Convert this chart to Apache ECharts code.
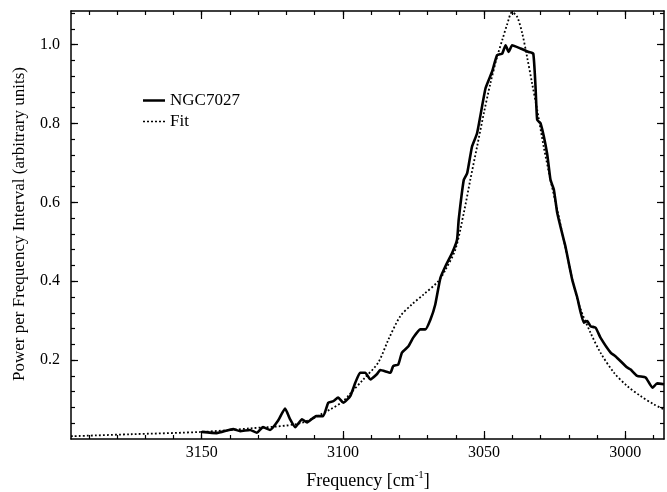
<!DOCTYPE html>
<html>
<head>
<meta charset="utf-8">
<script src="https://cdn.jsdelivr.net/npm/echarts@6/dist/echarts.min.js"></script>
<style>
html,body{margin:0;padding:0;background:#fff;}
#chart{width:667px;height:492px;}
</style>
</head>
<body>
<div id="chart"></div>
<script>
// Observed spectrum (NGC7027)
const freqObs = [3150.0,3144.7,3138.9,3136.4,3132.9,3130.5,3128.3,3125.8,3123.0,3120.5,3118.7,3116.9,3114.5,3112.7,3109.5,3107.0,3105.2,3103.4,3101.7,3099.9,3097.4,3095.6,3093.9,3092.1,3090.3,3088.0,3086.8,3083.2,3082.2,3080.4,3079.1,3076.8,3075.1,3072.6,3070.8,3069.0,3067.3,3065.5,3063.7,3061.3,3059.6,3059.0,3057.2,3056.0,3054.3,3052.5,3049.5,3047.2,3045.4,3043.6,3042.4,3041.3,3040.1,3037.1,3034.2,3032.6,3031.8,3031.2,3030.0,3027.7,3026.5,3025.3,3024.1,3021.8,3021.2,3018.8,3017.0,3014.7,3013.5,3012.3,3010.5,3008.8,3005.2,3003.5,2999.3,2998.1,2995.8,2992.8,2990.4,2988.7,2986.3];
const powerObs = [0.018,0.015,0.025,0.020,0.023,0.016,0.030,0.023,0.046,0.077,0.050,0.030,0.050,0.042,0.058,0.058,0.092,0.096,0.105,0.092,0.109,0.143,0.168,0.168,0.151,0.164,0.175,0.168,0.185,0.189,0.219,0.235,0.257,0.278,0.278,0.303,0.341,0.408,0.438,0.472,0.505,0.556,0.657,0.674,0.741,0.775,0.889,0.931,0.973,0.977,0.998,0.981,0.998,0.990,0.981,0.977,0.893,0.809,0.800,0.724,0.657,0.632,0.573,0.505,0.488,0.404,0.358,0.295,0.299,0.286,0.282,0.257,0.219,0.210,0.181,0.176,0.160,0.156,0.130,0.141,0.139];
// Fit
const freqFit = [3196.3,3175.4,3150.0,3132.9,3115.1,3104.5,3099.9,3098.2,3092.8,3087.5,3083.9,3079.7,3075.6,3071.5,3066.2,3063.7,3060.2,3057.2,3054.9,3052.5,3050.1,3047.8,3045.4,3043.6,3041.8,3040.1,3038.3,3036.5,3034.8,3033.0,3031.2,3028.9,3026.5,3024.1,3021.8,3018.2,3015.8,3012.3,3008.8,3004.0,2999.3,2994.6,2989.9,2986.3];
const powerFit = [0.007,0.012,0.018,0.027,0.040,0.075,0.096,0.109,0.151,0.194,0.252,0.311,0.341,0.366,0.400,0.429,0.480,0.573,0.657,0.741,0.826,0.901,0.969,1.011,1.052,1.082,1.070,1.028,0.969,0.901,0.834,0.741,0.657,0.581,0.505,0.387,0.328,0.269,0.219,0.168,0.134,0.109,0.088,0.075];
// Ticks
const xMajorTicks = [3000,3050,3100,3150];
const xMinorTicks = [2990,3000,3010,3020,3030,3040,3050,3060,3070,3080,3090,3100,3110,3120,3130,3140,3150,3160,3170,3180,3190];
const yMajorTicks = [0.2,0.4,0.6,0.8,1.0];
const yMinorTicks = [0.04,0.08,0.12,0.16,0.2,0.24,0.28,0.32,0.36,0.4,0.44,0.48,0.52,0.56,0.6,0.64,0.68,0.72,0.76,0.8,0.84,0.88,0.92,0.96,1.0,1.04,1.08];

const FONT = '"Liberation Serif", "Times New Roman", serif';
const X_MIN = 2986.3, X_MAX = 3196.3, Y_MIN = 0, Y_MAX = 1.085;

function xAx(pos, major, showLine) {
  return {
    type: 'value', position: pos, min: X_MIN, max: X_MAX, inverse: true,
    splitLine: {show: false},
    axisLine: {show: showLine, onZero: false, lineStyle: {color: '#000', width: 1.5}},
    axisTick: {show: true, inside: true, length: major ? 8 : 4,
      customValues: major ? xMajorTicks : xMinorTicks,
      lineStyle: {color: '#000', width: 1.2}},
    axisLabel: {show: pos === 'bottom' && major, customValues: xMajorTicks,
      color: '#000', fontFamily: FONT, fontSize: 16, margin: 6,
      formatter: v => String(Math.round(v))}
  };
}
function yAx(pos, major, showLine) {
  return {
    type: 'value', position: pos, min: Y_MIN, max: Y_MAX,
    splitLine: {show: false},
    axisLine: {show: showLine, onZero: false, lineStyle: {color: '#000', width: 1.5}},
    axisTick: {show: true, inside: true, length: major ? 7 : 4,
      customValues: major ? yMajorTicks : yMinorTicks,
      lineStyle: {color: '#000', width: 1.2}},
    axisLabel: {show: pos === 'left' && major, customValues: yMajorTicks,
      color: '#000', fontFamily: FONT, fontSize: 16, margin: 11,
      formatter: v => v.toFixed(1)}
  };
}

const chart = echarts.init(document.getElementById('chart'), null, {renderer: 'canvas'});
chart.setOption({
  animation: false,
  backgroundColor: '#fff',
  grid: {left: 71, right: 3, top: 11, bottom: 53, containLabel: false},
  xAxis: [xAx('bottom', true, true), xAx('bottom', false, false), xAx('top', true, true), xAx('top', false, false)],
  yAxis: [yAx('left', true, true), yAx('left', false, false), yAx('right', true, true), yAx('right', false, false)],
  legend: {
    orient: 'vertical', left: 138, top: 87, itemWidth: 22, itemHeight: 10, itemGap: 4,
    textStyle: {fontFamily: FONT, fontSize: 17, color: '#000'},
    data: [
      {name: 'NGC7027', icon: 'path://M0,4 L22,4 L22,6.5 L0,6.5 Z', itemStyle: {color: '#000'}},
      {name: 'Fit', icon: 'path://M0,4.5 L2,4.5 L2,6 L0,6 Z M4,4.5 L6,4.5 L6,6 L4,6 Z M8,4.5 L10,4.5 L10,6 L8,6 Z M12,4.5 L14,4.5 L14,6 L12,6 Z M16,4.5 L18,4.5 L18,6 L16,6 Z M20,4.5 L22,4.5 L22,6 L20,6 Z', itemStyle: {color: '#000'}}
    ]
  },
  series: [
    {
      name: 'Fit', type: 'line', symbol: 'none', smooth: 0.3,
      data: freqFit.map((f, i) => [f, powerFit[i]]),
      lineStyle: {color: '#000', width: 1.8, type: [1.8, 2.2]},
      itemStyle: {color: '#000'}, z: 2
    },
    {
      name: 'NGC7027', type: 'line', symbol: 'none', smooth: 0.15,
      data: freqObs.map((f, i) => [f, powerObs[i]]),
      lineStyle: {color: '#000', width: 2.6},
      itemStyle: {color: '#000'}, z: 3
    }
  ],
  graphic: [
    {type: 'text', x: 368, y: 481,
      style: {text: '{a|Frequency [cm}{s|-1}{a|]}', textAlign: 'center', textVerticalAlign: 'middle',
        rich: {a: {fontFamily: FONT, fontSize: 18, fill: '#000', color: '#000'},
               s: {fontFamily: FONT, fontSize: 11, fill: '#000', color: '#000', padding: [0, 0, 12, 0]}}}},
    {type: 'text', x: 20, y: 224, rotation: Math.PI / 2,
      style: {text: 'Power per Frequency Interval (arbitrary units)', textAlign: 'center', textVerticalAlign: 'middle',
        font: '17px ' + FONT, fill: '#000'}}
  ]
});
</script>
</body>
</html>
